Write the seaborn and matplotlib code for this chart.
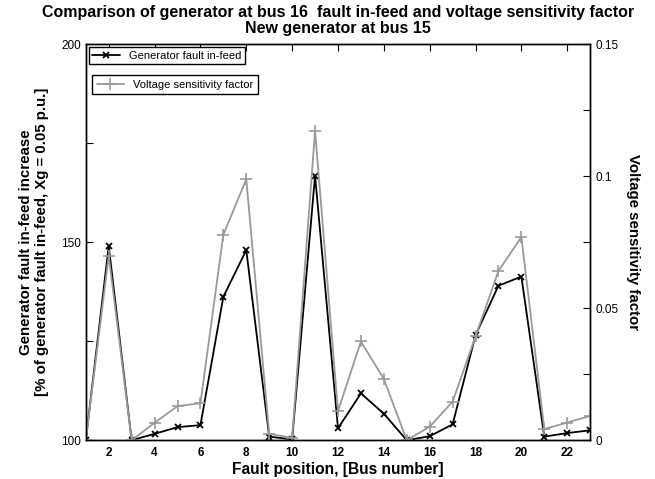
import matplotlib
matplotlib.use("Agg")
import matplotlib.pyplot as plt
import seaborn as sns
import pandas as pd
from matplotlib.ticker import MultipleLocator, FuncFormatter

bus = list(range(1, 24))
fault_infeed = [100, 149.0, 100, 101.6, 103.3, 103.8, 136.2, 148.0, 100.9, 100.2,
                166.8, 103.0, 111.8, 106.7, 100, 101.0, 104.0, 126.5, 139.0, 141.3,
                100.9, 101.8, 102.5]
vsf = [0, 0.0698, 0, 0.0066, 0.0129, 0.0140, 0.0778, 0.0988, 0.0024, 0.0009,
       0.1171, 0.0110, 0.0374, 0.0232, 0, 0.0051, 0.0146, 0.0393, 0.0641, 0.0769,
       0.0042, 0.0067, 0.0092]

df = pd.DataFrame({"bus": bus, "infeed": fault_infeed, "vsf": vsf})

sns.set_style("white")
plt.rcParams["font.family"] = ["Liberation Sans", "DejaVu Sans"]
plt.rcParams.update({"text.color": "black", "axes.labelcolor": "black",
                     "xtick.color": "black", "ytick.color": "black"})

fig = plt.figure(figsize=(6.55, 4.79), dpi=100)
ax = fig.add_axes([0.131, 0.081, 0.770, 0.827])
ax2 = ax.twinx()

sns.lineplot(data=df, x="bus", y="infeed", ax=ax, color="black", lw=1.3,
             marker="x", markersize=4, markeredgewidth=1.3, markeredgecolor="black",
             label="Generator fault in-feed")
sns.lineplot(data=df, x="bus", y="vsf", ax=ax2, color="#999999", lw=1.3,
             marker="+", markersize=9, markeredgewidth=1.2, markeredgecolor="#999999",
             label="Voltage sensitivity factor")

ax.set_xlim(1, 23)
ax.set_ylim(100, 200)
ax2.set_ylim(0, 0.15)
ax.set_xticks(range(2, 23, 2))
ax.yaxis.set_major_locator(MultipleLocator(50))
ax.yaxis.set_minor_locator(MultipleLocator(25))
ax2.yaxis.set_major_locator(MultipleLocator(0.05))
ax2.yaxis.set_minor_locator(MultipleLocator(0.025))
ax2.yaxis.set_major_formatter(FuncFormatter(lambda v, p: "0" if v == 0 else f"{v:g}"))

for a in (ax, ax2):
    for s in a.spines.values():
        s.set_visible(True)
        s.set_color("black")
        s.set_linewidth(1.0)
ax.tick_params(axis="x", direction="in", top=True, length=5, width=0.8, labelsize=8.5, pad=5)
ax.tick_params(axis="y", which="both", direction="in", length=5, width=0.8, labelsize=8.5)
ax2.tick_params(axis="y", which="both", direction="in", length=5, width=0.8, labelsize=8.5)
for lab in ax.get_xticklabels():
    lab.set_fontweight("bold")

ax.set_xlabel("Fault position, [Bus number]", fontsize=11.2, fontweight="bold", labelpad=2)
ax.set_ylabel("Generator fault in-feed increase\n[% of generator fault in-feed, Xg = 0.05 p.u.]",
              fontsize=10.8, fontweight="bold", labelpad=9, linespacing=1.1)
ax2.set_ylabel("Voltage sensitivity factor", fontsize=10.8, fontweight="bold",
               rotation=270, labelpad=16)

ax.set_title("Comparison of generator at bus 16  fault in-feed and voltage sensitivity factor\n"
             "New generator at bus 15", fontsize=11.5, fontweight="bold", pad=8, linespacing=1.1)

leg1 = ax.legend(loc="upper left", fancybox=False, edgecolor="black", framealpha=1,
                 fontsize=8, borderaxespad=0.3, handlelength=2.5, borderpad=0.3)
leg2 = ax2.legend(loc="upper left", fancybox=False, edgecolor="black", framealpha=1,
                  fontsize=8, bbox_to_anchor=(0.006, 0.93), borderaxespad=0.3,
                  handlelength=2.5, borderpad=0.4)
for lg in (leg1, leg2):
    lg.get_frame().set_linewidth(1.0)

fig.savefig("out.png", dpi=100)
